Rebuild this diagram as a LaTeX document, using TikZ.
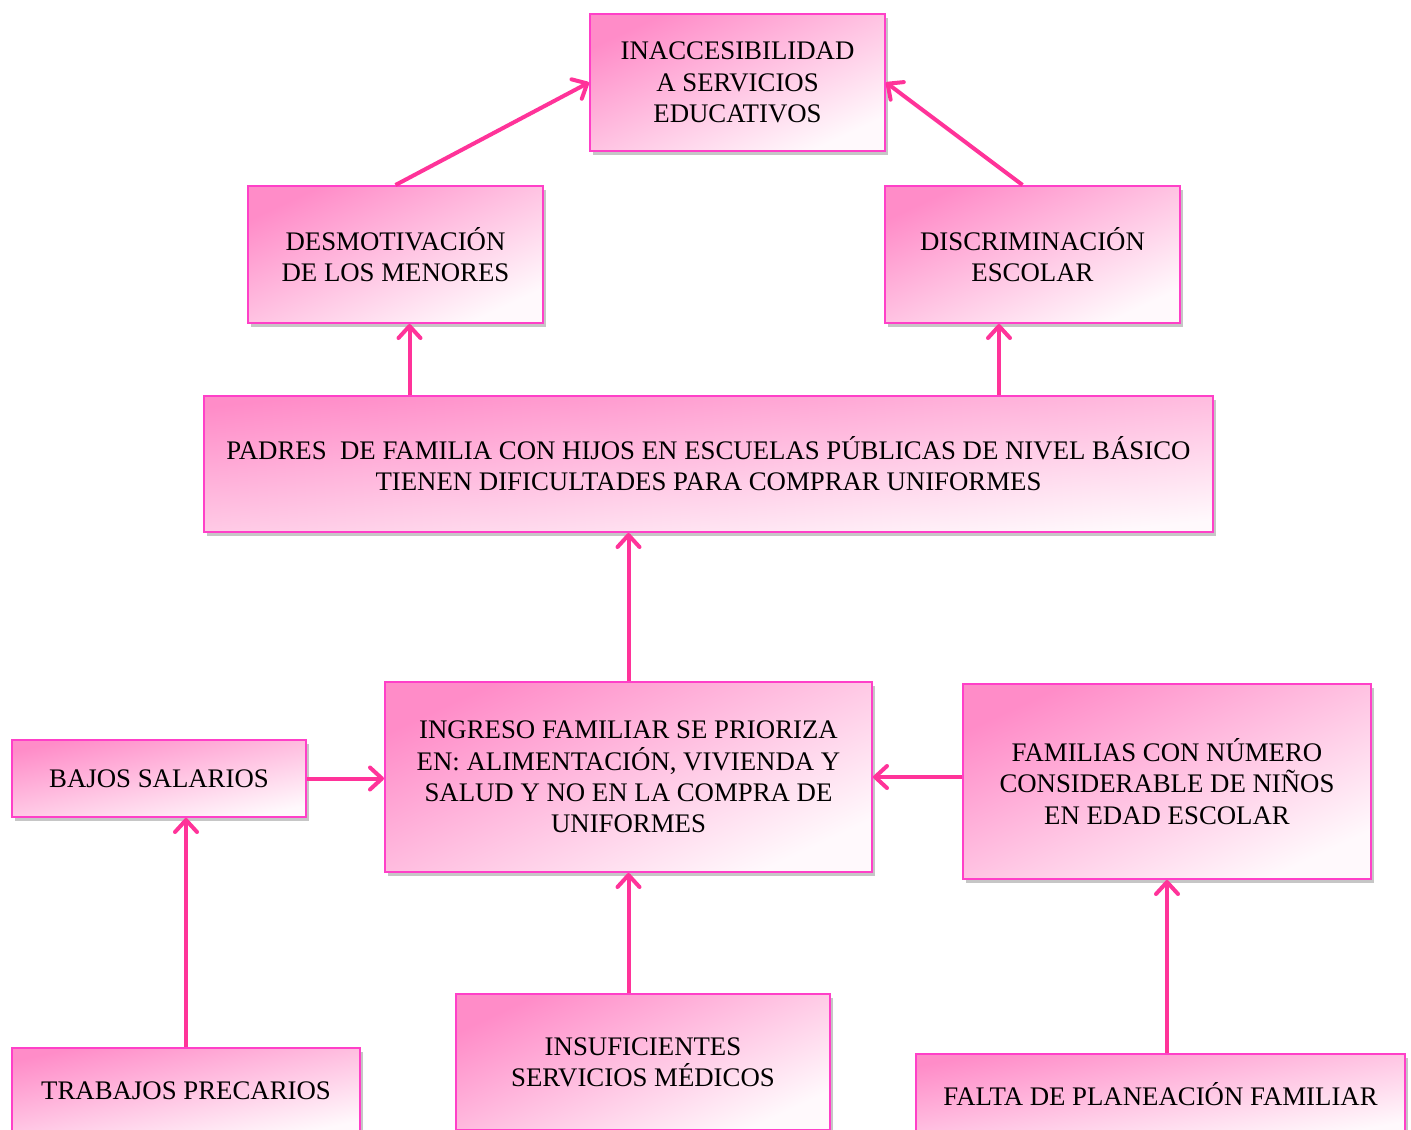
\documentclass[tikz,border=0pt]{standalone}
\usepackage{fontspec}
\setmainfont{Liberation Serif}
\usetikzlibrary{arrows.meta,shadows}
\definecolor{boxpink}{RGB}{255,140,200}
\definecolor{boxline}{RGB}{255,64,200}
\definecolor{arrpink}{RGB}{255,51,153}

\begin{document}
\begin{tikzpicture}[x=0.5pt,y=-0.5pt,
font=\fontsize{13.4}{15.6}\selectfont,
box/.style={draw=boxline, line width=1pt, inner sep=0pt, align=center,
    top color=boxpink, bottom color=white!95!boxpink, shading angle=#1,
    drop shadow={opacity=0.45, shadow xshift=1.5pt, shadow yshift=-1.8pt}},
box/.default=25,
arr/.style={draw=arrpink, line width=2pt,
    -{Straight Barb[length=6pt,width=11pt,line width=2pt,round]}}]
\useasboundingbox (0,0) rectangle (1411,1129);
% effects
\node[box, minimum width=147.5pt, minimum height=68.5pt] (inacc) at (737.5,82.5)
    {INACCESIBILIDAD\\A SERVICIOS\\EDUCATIVOS};
\node[box, minimum width=147.5pt, minimum height=68.5pt] (desm) at (395.5,254.5)
    {DESMOTIVACIÓN\\DE LOS MENORES};
\node[box, minimum width=147.5pt, minimum height=68.5pt] (disc) at (1032.5,254.5)
    {DISCRIMINACIÓN\\ESCOLAR};
% problem
\node[box=6, minimum width=504.5pt, minimum height=68pt] (padres) at (708.5,464)
    {PADRES \ DE FAMILIA CON HIJOS EN ESCUELAS PÚBLICAS DE NIVEL BÁSICO\\TIENEN DIFICULTADES PARA COMPRAR UNIFORMES};
% causes
\node[box, minimum width=243.5pt, minimum height=95pt] (ingreso) at (628.5,777)
    {INGRESO FAMILIAR SE PRIORIZA\\EN: ALIMENTACIÓN, VIVIENDA Y\\SALUD Y NO EN LA COMPRA DE\\UNIFORMES};
\node[box=12, minimum width=147pt, minimum height=38.5pt] (bajos) at (159,778.5)
    {BAJOS SALARIOS};
\node[box, minimum width=204pt, minimum height=97.5pt] (fam) at (1167,781.5)
    {FAMILIAS CON NÚMERO\\CONSIDERABLE DE NIÑOS\\EN EDAD ESCOLAR};
\node[box=12, minimum width=174pt, minimum height=43pt] (trab) at (186,1091)
    {TRABAJOS PRECARIOS};
\node[box, minimum width=187pt, minimum height=68pt] (insuf) at (643,1062)
    {INSUFICIENTES\\SERVICIOS MÉDICOS};
\node[box=10, minimum width=244.5pt, minimum height=40pt] (falta) at (1160.5,1094)
    {FALTA DE PLANEACIÓN FAMILIAR};
% arrows
\draw[arr] (desm.north) -- (inacc.west);
\draw[arr] ([xshift=-5pt]disc.north) -- (inacc.east);
\draw[arr] ([xshift=7pt]desm.south |- padres.north) -- ([xshift=7pt]desm.south);
\draw[arr] ([xshift=-16.75pt]disc.south |- padres.north) -- ([xshift=-16.75pt]disc.south);
\draw[arr] (ingreso.north) -- (ingreso.north |- padres.south);
\draw[arr] (bajos.east) -- (ingreso.west |- bajos.east);
\draw[arr] (fam.west |- ingreso.east) -- (ingreso.east);
\draw[arr] (trab.north) -- (trab.north |- bajos.south);
\draw[arr] (ingreso.south |- insuf.north) -- (ingreso.south);
\draw[arr] (falta.north -| fam.south) -- (fam.south);
\end{tikzpicture}
\end{document}
